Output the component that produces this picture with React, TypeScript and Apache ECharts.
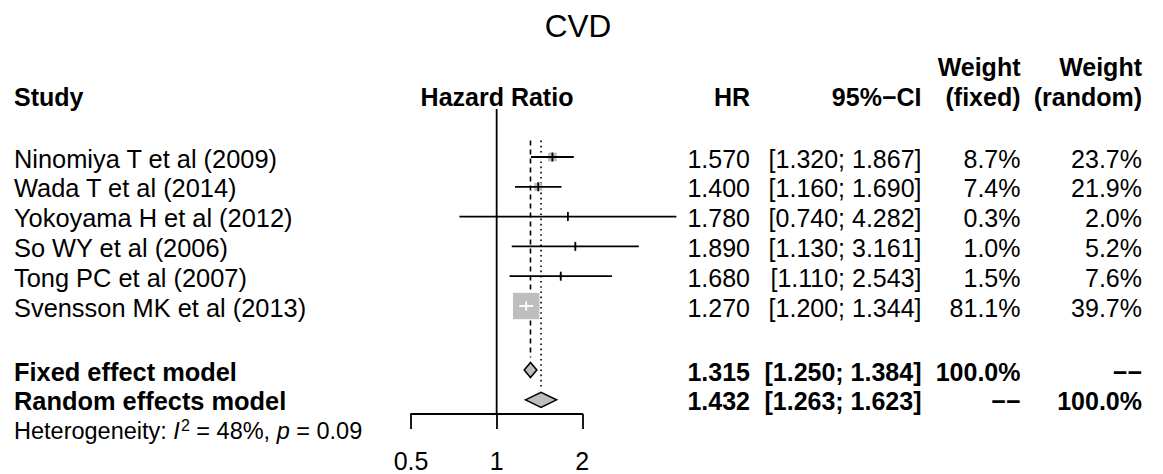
import { useEffect, useRef } from "react";
import * as echarts from "echarts";

// ---------------- data ----------------
const chartTitle = "CVD";
const studyNames = [
  "Ninomiya T et al (2009)",
  "Wada T et al (2014)",
  "Yokoyama H et al (2012)",
  "So WY et al (2006)",
  "Tong PC et al (2007)",
  "Svensson MK et al (2013)",
];
const hr = [1.57, 1.4, 1.78, 1.89, 1.68, 1.27];
const ciLower = [1.32, 1.16, 0.74, 1.13, 1.11, 1.2];
const ciUpper = [1.867, 1.69, 4.282, 3.161, 2.543, 1.344];
const weightFixed = [8.7, 7.4, 0.3, 1.0, 1.5, 81.1];
const weightRandom = [23.7, 21.9, 2.0, 5.2, 7.6, 39.7];

const pooledNames = ["Fixed effect model", "Random effects model"];
const pooledHR = [1.315, 1.432];
const pooledLower = [1.25, 1.263];
const pooledUpper = [1.384, 1.623];
const pooledWeightFixed = ["100.0%", "\u2212\u2212"];
const pooledWeightRandom = ["\u2212\u2212", "100.0%"];

const hetI2 = 48;
const hetP = 0.09;

const xTickValues = [0.5, 1, 2];
const headerStudy = "Study";
const headerEffect = "Hazard Ratio";
const headerHR = "HR";
const headerCI = "95%\u2212CI";
const headerWeightFixed = ["Weight", "(fixed)"];
const headerWeightRandom = ["Weight", "(random)"];

// ---------------- layout ----------------
const FONT = "'Liberation Sans', Arial, Helvetica, sans-serif";
const FS = 25;
const FS_NAME = 25.4;
const ROW_Y0 = 157;
const ROW_H = 29.8;
const GRID_TOP = 109;
const GRID_BOTTOM = 414;
const X_LEFT = 411;
const X_RIGHT = 582.3;
const COL_STUDY = 14;
const COL_HR = 750;
const COL_CI = 921.5;
const COL_WF = 1020.5;
const COL_WR = 1142;
const BOX_MAX = 26.4;
const DIAMOND_H = 7.5;
const GRAY = "#bebebe";
const LW = 1.8;
const TEXT_DY = 1.5;

const yMin = (GRID_TOP - ROW_Y0) / ROW_H;
const yMax = (GRID_BOTTOM - ROW_Y0) / ROW_H;
const nStudies = studyNames.length;
const pooledRows = [nStudies + 1.15, nStudies + 2.15];
const hetRow = nStudies + 3.15;
const maxWeight = Math.max(...weightFixed);

const fmt3 = (v: number) => v.toFixed(3);
const fmtCI = (a: number, b: number) => `[${fmt3(a)}; ${fmt3(b)}]`;

type TRow = { pos: number; bold: boolean; cells: string[]; het?: boolean };
const tableRows: TRow[] = [];
studyNames.forEach((name, i) => {
  tableRows.push({
    pos: i,
    bold: false,
    cells: [name, fmt3(hr[i]), fmtCI(ciLower[i], ciUpper[i]), weightFixed[i].toFixed(1) + "%", weightRandom[i].toFixed(1) + "%"],
  });
});
pooledNames.forEach((name, k) => {
  tableRows.push({
    pos: pooledRows[k],
    bold: true,
    cells: [name, fmt3(pooledHR[k]), fmtCI(pooledLower[k], pooledUpper[k]), pooledWeightFixed[k], pooledWeightRandom[k]],
  });
});
tableRows.push({ pos: hetRow, bold: false, cells: [], het: true });

function txt(text: string, x: number, y: number, align: string, bold: boolean, size = FS) {
  return {
    type: "text",
    x,
    y,
    style: {
      text,
      fill: "#000",
      fontSize: size,
      fontFamily: FONT,
      fontWeight: bold ? "bold" : "normal",
      align,
      textAlign: align,
      verticalAlign: "middle",
      textVerticalAlign: "middle",
    },
  };
}

export default function App() {
  const ref = useRef<HTMLDivElement>(null);

  useEffect(() => {
    if (!ref.current) return;
    const chart = echarts.init(ref.current, null, { renderer: "svg" });

    const studyData = studyNames.map((_, i) => [hr[i], i, ciLower[i], ciUpper[i], weightFixed[i]]);
    const pooledData = pooledHR.map((v, k) => [v, pooledRows[k], pooledLower[k], pooledUpper[k]]);
    // x, start row, end row, end gap (px), style
    const refData = [
      [1, yMin, yMax, 0, 0],
      [pooledHR[0], -0.55, pooledRows[0], DIAMOND_H + 5, 1],
      [pooledHR[1], -0.55, pooledRows[1], DIAMOND_H + 2, 2],
    ];

    const option: any = {
      animation: false,
      backgroundColor: "#fff",
      grid: { left: X_LEFT, width: X_RIGHT - X_LEFT, top: GRID_TOP, height: GRID_BOTTOM - GRID_TOP, containLabel: false },
      xAxis: {
        type: "log",
        logBase: 2,
        position: "bottom",
        min: xTickValues[0],
        max: xTickValues[xTickValues.length - 1],
        axisLine: { show: true, onZero: false, lineStyle: { color: "#000", width: LW } },
        axisTick: { show: true, inside: false, length: 15, lineStyle: { color: "#000", width: LW } },
        axisLabel: {
          show: true,
          color: "#000",
          fontSize: FS,
          fontFamily: FONT,
          margin: 34,
          formatter: (v: number) => String(Math.round(v * 1000) / 1000),
        },
        splitLine: { show: false },
      },
      yAxis: { type: "value", inverse: true, min: yMin, max: yMax, show: false },
      graphic: [
        txt(chartTitle, 578, 25.5, "center", false, 31.5),
        txt(headerStudy, COL_STUDY, 97, "left", true),
        txt(headerEffect, 497, 97, "center", true),
        txt(headerHR, COL_HR, 97, "right", true),
        txt(headerCI, COL_CI, 97, "right", true),
        txt(headerWeightFixed[0], COL_WF, 67, "right", true),
        txt(headerWeightFixed[1], COL_WF, 97, "right", true),
        txt(headerWeightRandom[0], COL_WR, 67, "right", true),
        txt(headerWeightRandom[1], COL_WR, 97, "right", true),
      ],
      series: [
        {
          type: "custom",
          name: "ref",
          clip: false,
          silent: true,
          data: refData,
          renderItem: (params: any, api: any) => {
            const x = api.coord([api.value(0), 0])[0];
            const y1 = api.coord([1, api.value(1)])[1];
            const y2 = api.coord([1, api.value(2)])[1] - api.value(3);
            const kind = api.value(4);
            const dash = kind === 0 ? null : kind === 1 ? [5, 4] : [1.6, 3.6];
            return {
              type: "line",
              shape: { x1: x, y1, x2: x, y2 },
              style: { stroke: "#000", lineWidth: kind === 0 ? LW : 1.6, lineDash: dash },
            };
          },
        },
        {
          type: "custom",
          name: "studies",
          clip: false,
          silent: true,
          data: studyData,
          renderItem: (params: any, api: any) => {
            const [xc, yc] = api.coord([api.value(0), api.value(1)]);
            const xl = api.coord([api.value(2), api.value(1)])[0];
            const xu = api.coord([api.value(3), api.value(1)])[0];
            const side = BOX_MAX * Math.sqrt(api.value(4) / maxWeight);
            const inside = xl >= xc - side / 2 && xu <= xc + side / 2;
            const lc = inside ? "#fff" : "#000";
            return {
              type: "group",
              children: [
                { type: "rect", shape: { x: xc - side / 2, y: yc - side / 2, width: side, height: side }, style: { fill: GRAY } },
                { type: "line", shape: { x1: xl, y1: yc, x2: xu, y2: yc }, style: { stroke: lc, lineWidth: LW } },
                { type: "line", shape: { x1: xc, y1: yc - 4.5, x2: xc, y2: yc + 4.5 }, style: { stroke: lc, lineWidth: LW } },
              ],
            };
          },
        },
        {
          type: "custom",
          name: "pooled",
          clip: false,
          silent: true,
          data: pooledData,
          renderItem: (params: any, api: any) => {
            const [xc, yc] = api.coord([api.value(0), api.value(1)]);
            const xl = api.coord([api.value(2), api.value(1)])[0];
            const xu = api.coord([api.value(3), api.value(1)])[0];
            return {
              type: "polygon",
              shape: { points: [[xl, yc], [xc, yc - DIAMOND_H], [xu, yc], [xc, yc + DIAMOND_H]] },
              style: { fill: GRAY, stroke: "#000", lineWidth: 1.6 },
            };
          },
        },
        {
          type: "custom",
          name: "table",
          clip: false,
          silent: true,
          data: tableRows.map((r) => [1, r.pos]),
          renderItem: (params: any, api: any) => {
            const row = tableRows[params.dataIndex];
            const y = api.coord([1, api.value(1)])[1] + TEXT_DY;
            if (row.het) {
              const base = { fontSize: 23.5, fontFamily: FONT, fill: "#000", lineHeight: 28 };
              return {
                type: "text",
                x: COL_STUDY,
                y,
                style: {
                  text: `{n|Heterogeneity: }{i|I}{s|2}{n| = ${hetI2}%, }{i|p}{n| = ${hetP.toFixed(2)}}`,
                  fill: "#000",
                  fontSize: 23.5,
                  fontFamily: FONT,
                  align: "left",
                  textAlign: "left",
                  verticalAlign: "middle",
                  textVerticalAlign: "middle",
                  rich: {
                    n: base,
                    i: { ...base, fontStyle: "italic" },
                    s: { ...base, fontSize: 16, lineHeight: 28, padding: [0, 0, 12, 1] },
                  },
                },
              };
            }
            const c = row.cells;
            return {
              type: "group",
              children: [
                txt(c[0], COL_STUDY, y, "left", row.bold, FS_NAME),
                txt(c[1], COL_HR, y, "right", row.bold),
                txt(c[2], COL_CI, y, "right", row.bold),
                txt(c[3], COL_WF, y, "right", row.bold),
                txt(c[4], COL_WR, y, "right", row.bold),
              ],
            };
          },
        },
      ],
    };

    chart.setOption(option);
    return () => chart.dispose();
  }, []);

  return (
    <div
      ref={ref}
      style={{ position: "fixed", left: 0, top: 0, width: 1163, height: 474, background: "#fff" }}
    />
  );
}
